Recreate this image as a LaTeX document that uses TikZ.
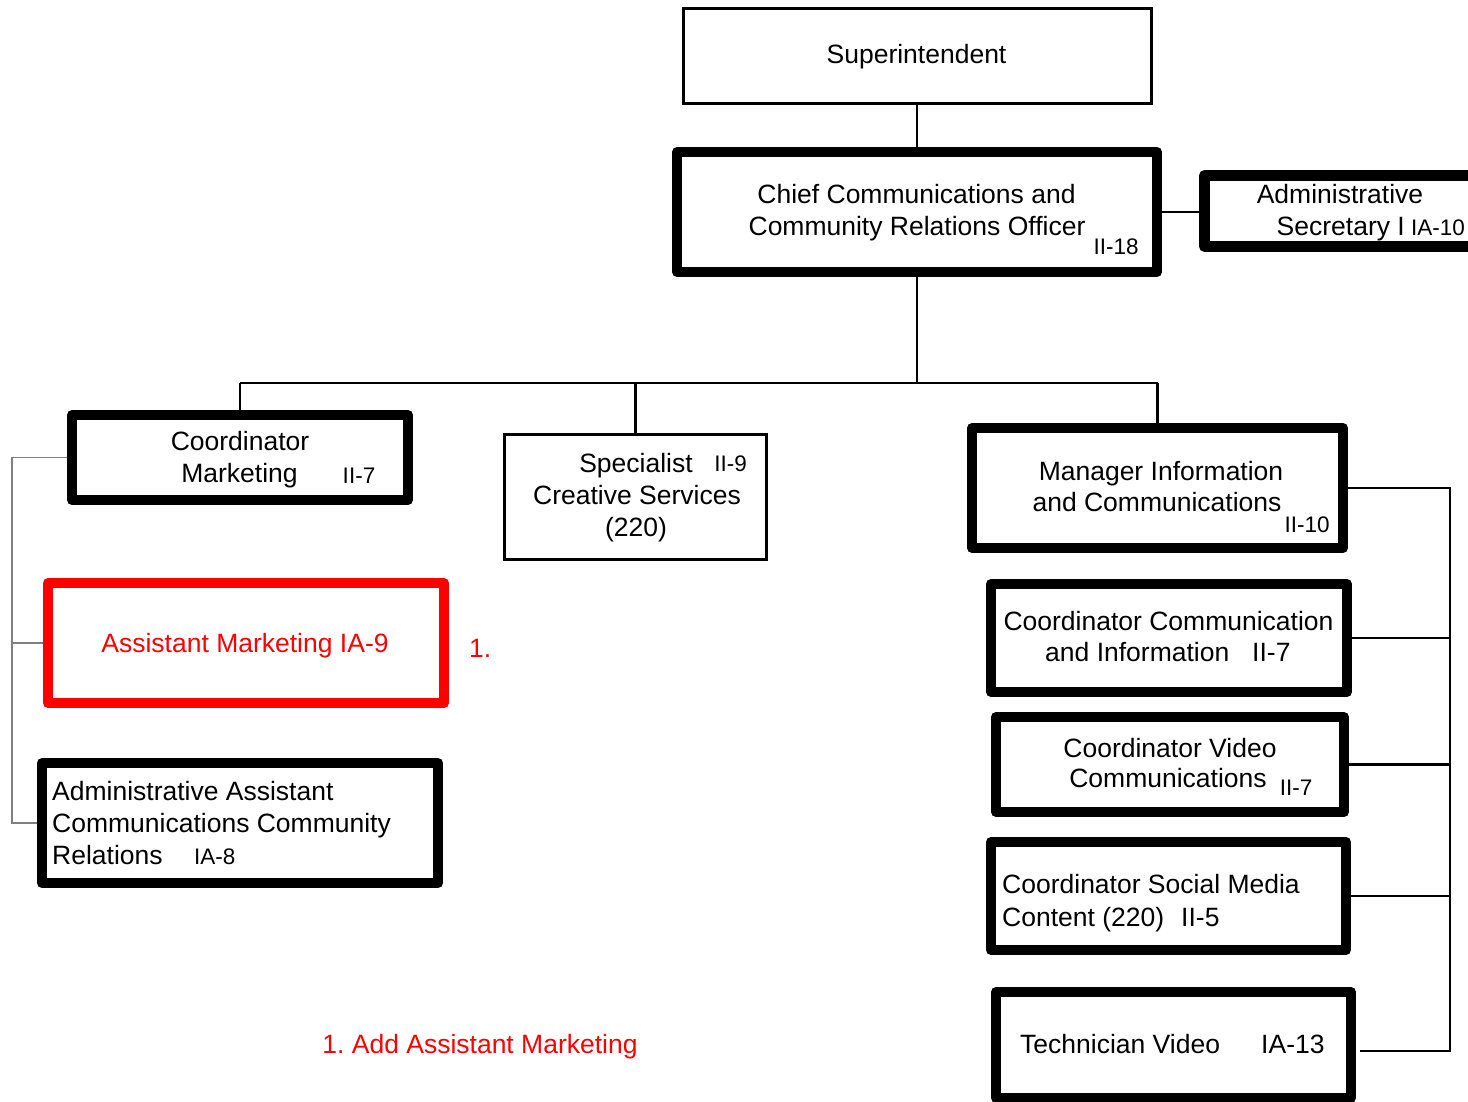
\documentclass[tikz,border=0pt]{standalone}
\usepackage{fontspec}
\setmainfont{Liberation Sans}
\definecolor{myred}{RGB}{255,0,0}
\definecolor{mygray}{RGB}{128,128,128}
\frenchspacing
\begin{document}
\begin{tikzpicture}[x=1pt,y=-1pt,
  main/.style={font=\fontsize{26.5}{32}\selectfont, inner sep=0pt, anchor=base},
  small/.style={font=\fontsize{22.5}{27}\selectfont, inner sep=0pt, anchor=base},
  thickbox/.style={draw, line width=10pt, line join=round, inner sep=0pt},
  thinbox/.style={draw, line width=3pt, inner sep=0pt},
  conn/.style={line width=2.5pt},
  gconn/.style={line width=1.5pt, draw=mygray}]
\clip (0,0) rectangle (1468,1102);
\fill[white] (0,0) rectangle (1468,1102);

% boxes
\node[thinbox, minimum width=468pt, minimum height=95pt] (sup) at (917,56) {};
\node[thickbox, minimum width=480pt, minimum height=120pt] (chief) at (917,212) {};
\node[thickbox, line width=11pt, minimum width=286pt, minimum height=71pt] (adm) at (1347.5,211) {};
\node[thickbox, minimum width=336pt, minimum height=85pt] (cm) at (240,457.5) {};
\node[thinbox, minimum width=262pt, minimum height=125pt] (spec) at (635.5,497) {};
\node[thickbox, minimum width=371pt, minimum height=120pt] (mgr) at (1157.5,488) {};
\node[thickbox, draw=myred, minimum width=396pt, minimum height=120pt] (am) at (246,643) {};
\node[thickbox, minimum width=396pt, minimum height=120pt] (aa) at (240,823) {};
\node[thickbox, minimum width=356pt, minimum height=108pt] (cc) at (1169,638) {};
\node[thickbox, minimum width=348pt, minimum height=95pt] (cv) at (1170,764.5) {};
\node[thickbox, minimum width=355pt, minimum height=108pt] (sm) at (1168.5,896) {};
\node[thickbox, minimum width=355pt, minimum height=106pt] (tech) at (1173.5,1045) {};

% helper coordinates
\coordinate (busy) at (0,383);
\coordinate (gl) at (12,0);
\coordinate (rb) at (1450,0);
\coordinate (techc) at (1360,1051);

% connectors
\draw[conn] (sup.south) -- (chief.north);
\draw[conn] (chief.south) -- (chief.south |- busy);
\draw[conn] (cm.north |- busy) -- (mgr.north |- busy);
\draw[conn] (cm.north |- busy) -- (cm.north);
\draw[conn] (spec.north |- busy) -- (spec.north);
\draw[conn] (mgr.north |- busy) -- (mgr.north);
\draw[conn] (chief.east) -- (chief.east -| adm.west);
\draw[gconn] (cm.west) -- (cm.west -| gl) -- (aa.west -| gl) -- (aa.west);
\draw[gconn] (am.west -| gl) -- (am.west);
\draw[conn] (mgr.east) -- (mgr.east -| rb) -- (rb |- techc) -- (techc);
\draw[conn] (cc.east) -- (cc.east -| rb);
\draw[conn] (cv.east) -- (cv.east -| rb);
\draw[conn] (sm.east) -- (sm.east -| rb);

% texts
\node[main] (t1) at (916.5,64) {Superintendent};
\node[main] (t2) at (916.5,204) {Chief Communications and};
\node[main] (t3) at (917,236) {Community Relations Officer};
\node[small] (t4) at (1116,255) {II-18};
\node[main] (t5) at (1340,204) {Administrative};
\node[main, anchor=base east] (t6) at (1405,236) {Secretary I};
\node[small, anchor=base west] (t7) at (1411,236) {IA-10};
\node[main] (t8) at (240,450) {Coordinator};
\node[main] (t9) at (239.5,482) {Marketing};
\node[small] (t10) at (359,483) {II-7};
\node[main] (t11) at (636,472) {Specialist};
\node[small] (t12) at (730.5,471) {II-9};
\node[main] (t13) at (637,504) {Creative Services};
\node[main] (t14) at (636,536) {(220)};
\node[main] (t15) at (1161,480) {Manager Information};
\node[main] (t16) at (1157,511) {and Communications};
\node[small] (t17) at (1307,532) {II-10};
\node[main, text=myred] (t18) at (245,652) {Assistant Marketing IA-9};
\node[main, text=myred, anchor=base west] (t19) at (469,657) {1.};
\node[main, anchor=base west] (t20) at (52,800) {Administrative Assistant};
\node[main, anchor=base west] (t21) at (52,832) {Communications Community};
\node[main, anchor=base west] (t22) at (52,864) {Relations};
\node[small, anchor=base west] (t23) at (194,864) {IA-8};
\node[main] (t24) at (1168.5,630) {Coordinator Communication};
\node[main, anchor=base west] (t25) at (1045,661) {and Information};
\node[main, anchor=base west] (t26) at (1252,661) {II-7};
\node[main] (t27) at (1170,757) {Coordinator Video};
\node[main] (t28) at (1168,787) {Communications};
\node[small] (t29) at (1296,795) {II-7};
\node[main, anchor=base west] (t30) at (1002,893) {Coordinator Social Media};
\node[main, anchor=base west] (t31) at (1002,926) {Content (220)\hspace{17pt}II-5};
\node[main, anchor=base west] (t32) at (1020,1053) {Technician Video};
\node[main, anchor=base west] (t33) at (1261,1053) {IA-13};
\node[main, text=myred] (t34) at (480,1053) {1. Add Assistant Marketing};
\end{tikzpicture}
\end{document}
